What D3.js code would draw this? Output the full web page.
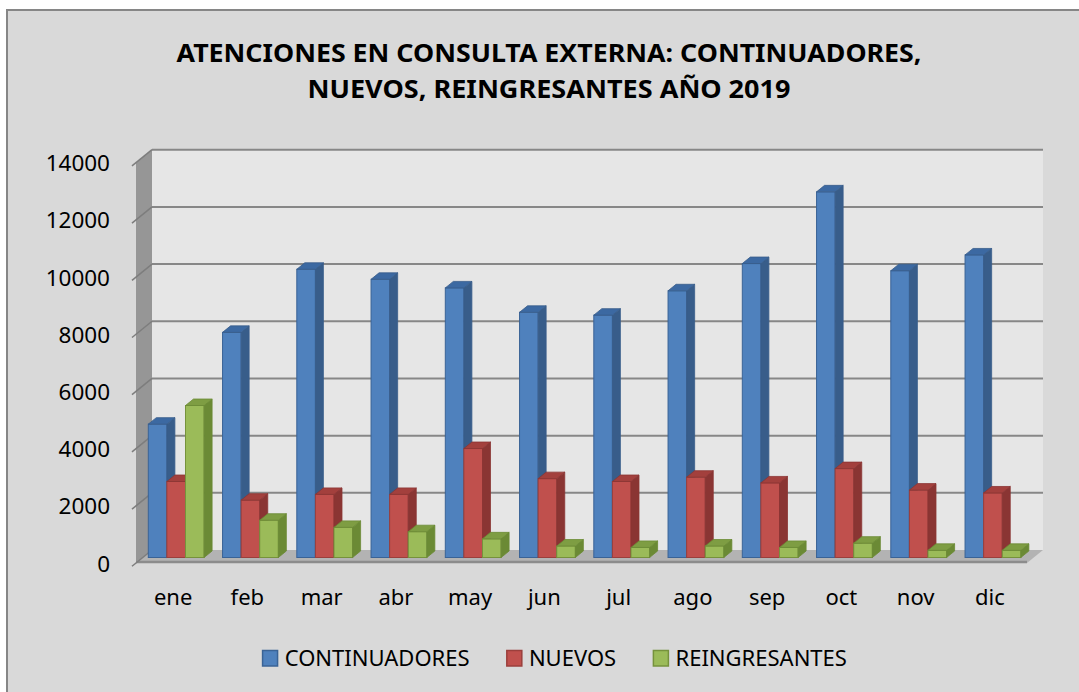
<html>
    <head>
        <meta charset="utf-8">
        <script src="https://d3js.org/d3.v7.min.js"></script>
        <style type="text/css">
        body { margin: 0; background: #fff; }
        text { font-family: "Noto Sans", "Open Sans", sans-serif; fill: #000; }
        </style>
    </head>
    <body>
        <div id="chart"></div>

<script type="text/javascript">

const months = ["ene", "feb", "mar", "abr", "may", "jun", "jul", "ago", "sep", "oct", "nov", "dic"]
const seriesNames = ["CONTINUADORES", "NUEVOS", "REINGRESANTES"]
const continuadores = [4650, 7850, 10050, 9700, 9400, 8550, 8450, 9300, 10250, 12750, 10000, 10550]
const nuevos = [2650, 2000, 2200, 2200, 3800, 2750, 2650, 2800, 2600, 3100, 2350, 2250]
const reingresantes = [5300, 1300, 1050, 900, 650, 400, 350, 400, 350, 500, 250, 250]
const yTicks = [0, 2000, 4000, 6000, 8000, 10000, 12000, 14000]
const titleLines = ["ATENCIONES EN CONSULTA EXTERNA: CONTINUADORES,", "NUEVOS, REINGRESANTES AÑO 2019"]

const width = 1079, height = 692

// 3d look: front plane, back wall, and bars half way in between
const depth = {dx: 16, dy: 13}
const barDepth = {dx: 8, dy: 6.5}
const plot = {left: 136, right: 1027}

const colors = {
    CONTINUADORES: {front: "#4f81bd", side: "#385d8a", top: "#3c69a2", line: "#3a6396"},
    NUEVOS: {front: "#c0504d", side: "#8a3533", top: "#a3403d", line: "#9b3f3c"},
    REINGRESANTES: {front: "#9bbb59", side: "#6b8a35", top: "#7e9d43", line: "#76923c"}
}

const svg = d3.select("#chart")
    .append("svg")
        .attr("width", width)
        .attr("height", height)

// chart area
svg.append("rect")
    .attr("x", 7).attr("y", 10)
    .attr("width", 1100).attr("height", 720)
    .attr("fill", "#d9d9d9")
    .attr("stroke", "#868686")
    .attr("stroke-width", 2)

const yFront = d3.scaleLinear().domain([0, 14000]).range([563, 162.7])
const yBack = d3.scaleLinear().domain([0, 14000]).range([563 - depth.dy, 162.7 - depth.dy])
const yBar = d3.scaleLinear().domain([0, 14000]).range([557.5, 156])

const x = d3.scaleBand()
    .domain(months)
    .range([plot.left, plot.right])

const barW = 18.6
const xs = d3.scaleBand()
    .domain(seriesNames)
    .range([0, barW * 3])

// back wall
svg.append("rect")
    .attr("x", plot.left + depth.dx)
    .attr("y", yBack(14000))
    .attr("width", plot.right - plot.left)
    .attr("height", yBack(0) - yBack(14000))
    .attr("fill", "#e6e6e6")

// side wall
svg.append("polygon")
    .attr("points", [
        [plot.left, yFront(14000)], [plot.left + depth.dx, yBack(14000)],
        [plot.left + depth.dx, yBack(0)], [plot.left, yFront(0)]
    ].join(" "))
    .attr("fill", "#969696")

// floor
svg.append("polygon")
    .attr("points", [
        [plot.left, yFront(0)], [plot.left + depth.dx, yBack(0)],
        [plot.right + depth.dx, yBack(0)], [plot.right, yFront(0)]
    ].join(" "))
    .attr("fill", "#b3b3b3")
svg.append("line")
    .attr("x1", plot.left).attr("x2", plot.right)
    .attr("y1", yFront(0) - 1).attr("y2", yFront(0) - 1)
    .attr("stroke", "#8c8c8c").attr("stroke-width", 2.5)

// gridlines on back wall + ticks on side wall
svg.append("g")
    .selectAll("line")
    .data(yTicks.slice(1))
    .enter().append("line")
        .attr("x1", plot.left + depth.dx).attr("x2", plot.right + depth.dx)
        .attr("y1", d => yBack(d)).attr("y2", d => yBack(d))
        .attr("stroke", "#878787").attr("stroke-width", 2)

svg.append("g")
    .selectAll("line")
    .data(yTicks)
    .enter().append("line")
        .attr("x1", plot.left - 4).attr("x2", plot.left + depth.dx)
        .attr("y1", d => yFront(d) + 4 * depth.dy / depth.dx).attr("y2", d => yBack(d))
        .attr("stroke", "#7d7d7d").attr("stroke-width", 1.5)

// y labels
svg.append("g")
    .selectAll("text")
    .data(yTicks)
    .enter().append("text")
        .attr("x", 110)
        .attr("y", d => yFront(d) + 8.5)
        .attr("text-anchor", "end")
        .style("font-size", "22.5px")
        .text(d => d)

// month labels
svg.append("g")
    .selectAll("text")
    .data(months)
    .enter().append("text")
        .attr("x", d => x(d) + x.bandwidth() / 2)
        .attr("y", 605)
        .attr("text-anchor", "middle")
        .style("font-size", "22px")
        .text(d => d)

// bars
const values = {CONTINUADORES: continuadores, NUEVOS: nuevos, REINGRESANTES: reingresantes}
const bars = []
months.forEach((m, i) => {
    seriesNames.forEach(s => bars.push({month: m, key: s, value: values[s][i]}))
})

const bar = svg.append("g")
    .selectAll("g")
    .data(bars)
    .enter().append("g")

function x0(d) { return x(d.month) + 12.3 + xs(d.key) }

// front face
bar.append("rect")
    .attr("x", d => x0(d))
    .attr("y", d => yBar(d.value))
    .attr("width", barW)
    .attr("height", d => yBar(0) - yBar(d.value))
    .attr("fill", d => colors[d.key].front)
    .attr("stroke", d => colors[d.key].line)
    .attr("stroke-width", 1)

// side face
bar.append("polygon")
    .attr("points", d => {
        const a = x0(d) + barW, t = yBar(d.value), b = yBar(0)
        return [[a, t], [a + barDepth.dx, t - barDepth.dy], [a + barDepth.dx, b - barDepth.dy], [a, b]].join(" ")
    })
    .attr("fill", d => colors[d.key].side)
    .attr("stroke", d => colors[d.key].side)
    .attr("stroke-width", 0.8)

// top face
bar.append("polygon")
    .attr("points", d => {
        const a = x0(d), t = yBar(d.value)
        return [[a, t], [a + barDepth.dx, t - barDepth.dy], [a + barW + barDepth.dx, t - barDepth.dy], [a + barW, t]].join(" ")
    })
    .attr("fill", d => colors[d.key].top)
    .attr("stroke", d => colors[d.key].side)
    .attr("stroke-width", 0.8)

// title
svg.append("g")
    .selectAll("text")
    .data(titleLines)
    .enter().append("text")
        .attr("x", 549)
        .attr("y", (d, i) => 61.7 + i * 36.6)
        .attr("text-anchor", "middle")
        .attr("textLength", (d, i) => i === 0 ? 745 : 483)
        .attr("lengthAdjust", "spacingAndGlyphs")
        .style("font-size", "25.5px")
        .style("font-weight", "bold")
        .text(d => d)

// legend
const legend = svg.append("g")
let lx = 0
seriesNames.forEach(s => {
    const item = legend.append("g").attr("transform", "translate(" + lx + ",0)")
    item.append("rect")
        .attr("x", 0.5).attr("y", 650.5)
        .attr("width", 15).attr("height", 15.5)
        .attr("fill", colors[s].front)
        .attr("stroke", colors[s].line)
        .attr("stroke-width", 1.5)
    const t = item.append("text")
        .attr("x", 22.6).attr("y", 665.7)
        .style("font-size", "22px")
        .text(s)
    lx += 22.6 + t.node().getComputedTextLength() + 36.7
})
const legendW = lx - 36.7
legend.attr("transform", "translate(" + (554.5 - legendW / 2) + ",0)")

</script>
</body>
</html>
